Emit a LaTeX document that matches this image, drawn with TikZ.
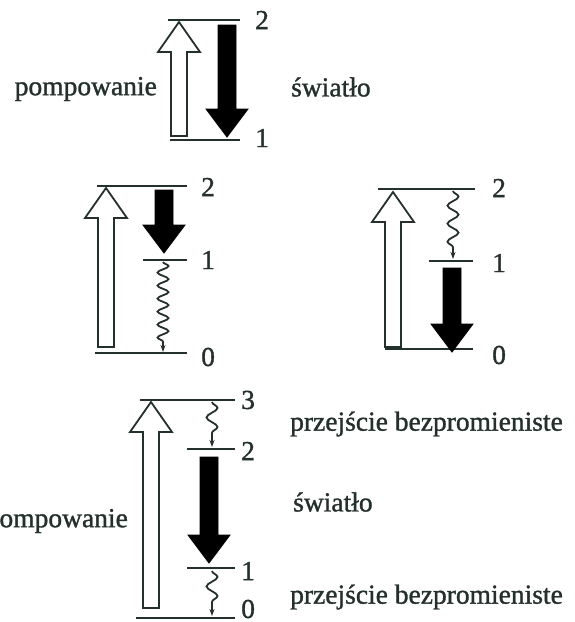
\documentclass[tikz,border=0pt]{standalone}
\usepackage{fontspec}
\setmainfont{Liberation Serif}[FakeBold=1.2]
\usetikzlibrary{arrows.meta, decorations.pathmorphing}
\definecolor{ink}{HTML}{24302C}

% open (pumping) arrow pointing up: x, tail y, tip y
\newcommand{\pumparrow}[3]{%
  \draw[pump] (#1-8,#2) -- (#1-8,#3+30) -- (#1-21,#3+30) -- (#1,#3)
    -- (#1+21,#3+30) -- (#1+8,#3+30) -- (#1+8,#2) -- cycle;}
% filled (light) arrow pointing down: x, top y, tip y
\newcommand{\lightarr}[3]{%
  \draw[emit] (#1-9,#2) -- (#1-9,#3-28) -- (#1-21,#3-28) -- (#1,#3)
    -- (#1+21,#3-28) -- (#1+9,#3-28) -- (#1+9,#2) -- cycle;}

\begin{document}
\begin{tikzpicture}[
    x=1pt, y=-1pt,
    every node/.style={font=\fontsize{27.5}{30}\selectfont, text=ink, inner sep=0pt},
    level/.style={draw=ink, line width=1.8pt},
    num/.style={anchor=west},
    pump/.style={draw=ink, fill=white, line width=1.8pt, line join=miter},
    emit/.style={draw=black, fill=black, line width=0.8pt, line join=miter},
    wavy/.style={draw=ink, line width=1.8pt, decorate,
        decoration={snake, amplitude=5.5pt, segment length=#1, post length=6pt},
        -{Stealth[length=7pt, width=5pt]}},
    wavy/.default=14pt,
]
\path[use as bounding box] (0,0) rectangle (575,622);
\clip (0,0) rectangle (575,622);

% === two-level system ===
\draw[level] (168,20) -- (240,20);
\draw[level] (170,140) -- (240,140);
\node[num] (a2) at (255,20) {2};
\node[num] (a1) at (255,138) {1};
\pumparrow{179}{136}{22}
\lightarr{227}{25}{137}
\node[anchor=east] (apump) at (157,89) {pompowanie};
\node[anchor=west] (alight) at (291,87) {światło};

% === three-level system, emission 2 -> 1 ===
\draw[level] (97,186) -- (187,186);
\draw[level] (143,260) -- (187,260);
\draw[level] (95,353) -- (187,353);
\node[num] (b2) at (201,187) {2};
\node[num] (b1) at (201,260) {1};
\node[num] (b0) at (201,357) {0};
\pumparrow{106}{347}{188}
\lightarr{164}{190}{253}
\coordinate (bw1) at (163,262);
\coordinate (bw0) at (163,352);
\draw[wavy=13pt] (bw1) -- (bw0);

% === three-level system, emission 1 -> 0 ===
\draw[level] (378,189) -- (475,189);
\draw[level] (429,261) -- (473,261);
\draw[level] (385,349) -- (473,349);
\node[num] (c2) at (492,188) {2};
\node[num] (c1) at (492,263) {1};
\node[num] (c0) at (492,355) {0};
\pumparrow{393}{347}{192}
\lightarr{452}{268}{352}
\coordinate (cw2) at (453,191);
\coordinate (cw1) at (453,259);
\draw[wavy=18pt] (cw2) -- (cw1);

% === four-level system ===
\draw[level] (140,400) -- (235,400);
\draw[level] (187,449) -- (235,449);
\draw[level] (187,568) -- (235,568);
\draw[level] (136,618) -- (235,618);
\node[num] (d3) at (241,400) {3};
\node[num] (d2) at (241,451) {2};
\node[num] (d1) at (241,571) {1};
\node[num] (d0) at (241,609) {0};
\pumparrow{151}{608}{402}
\lightarr{209}{457}{563}
\coordinate (dw3) at (212,402);
\coordinate (dw2) at (212,447);
\coordinate (dw1) at (212,571);
\coordinate (dw0) at (212,616);
\draw[wavy=19pt] (dw3) -- (dw2);
\draw[wavy=19pt] (dw1) -- (dw0);
\node[anchor=east] (dpump) at (128,521) {pompowanie};
\node[anchor=west] (dtop) at (290,424) {przejście bezpromieniste};
\node[anchor=west] (dlight) at (293,502) {światło};
\node[anchor=west] (dbot) at (290,597) {przejście bezpromieniste};
\end{tikzpicture}
\end{document}
